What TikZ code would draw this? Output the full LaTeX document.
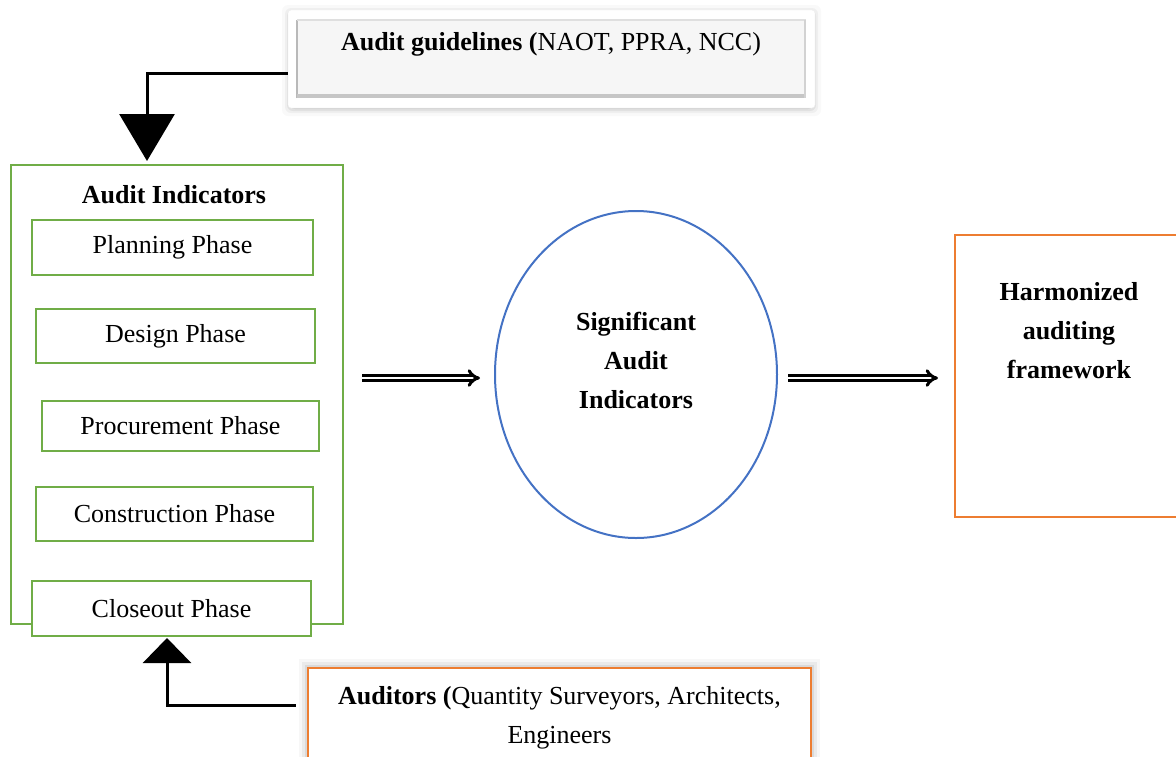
\documentclass[tikz,border=0pt]{standalone}
\usepackage{fontspec}
\setmainfont{Liberation Serif}
\usetikzlibrary{arrows.meta,calc,shapes.geometric}
\definecolor{grn}{RGB}{112,173,71}
\definecolor{org}{RGB}{237,125,49}
\definecolor{blu}{RGB}{68,114,196}
\begin{document}
\begin{tikzpicture}[x=1pt,y=-1pt,
  txt/.style={font=\fontsize{26}{39}\selectfont, inner sep=0pt, align=center},
  phasebox/.style={draw=grn, line width=2pt, fill=white, inner sep=0pt, font=\fontsize{26}{39}\selectfont},
  dblarrow/.style={double, double distance=2.5pt, line width=3pt, -{Implies}}
]
\useasboundingbox (0,0) rectangle (1176,756);

% ---- Audit guidelines (bevelled box with soft shadow)
\foreach \s/\o in {8/0.025,5/0.04,3/0.06,1/0.08}{
  \fill[black,opacity=\o,rounded corners=6pt] (288-\s+2,10-\s+3) rectangle (815+\s-2,108+\s);
}
\node[draw=gray!15, fill=white, rounded corners=3pt, minimum width=527, minimum height=98, inner sep=0pt] (gl) at (551.5,59) {};
\node[fill=gray!7, minimum width=509, minimum height=78, inner sep=0pt] (gli) at (551.5,59) {};
\draw[gray!55, line width=1.5pt] (gli.south west) -- (gli.north west);
\draw[gray!25, line width=1.5pt] (gli.north west) -- (gli.north east);
\draw[gray!45, line width=4pt] ($(gli.south west)+(0,-2)$) -- ($(gli.south east)+(0,-2)$);
\draw[gray!35, line width=2pt] ($(gli.north east)+(-1,0)$) -- ($(gli.south east)+(-1,0)$);
\node[txt] (gltext) at (551,44) {\textbf{Audit guidelines (}NAOT, PPRA, NCC)};

% ---- Audit indicators
\node[draw=grn, line width=2pt, minimum width=332, minimum height=459, inner sep=0pt] (ai) at (177,394.5) {};
\node[txt] (aititle) at (174,195) {\textbf{Audit Indicators}};
\node[phasebox, minimum width=281, minimum height=55] (p1) at (172.5,247.5) {Planning Phase};
\node[phasebox, minimum width=279, minimum height=54] (p2) at (175.5,336) {Design Phase};
\node[phasebox, minimum width=277, minimum height=50] (p3) at (180.5,426) {Procurement Phase};
\node[phasebox, minimum width=277, minimum height=54] (p4) at (174.5,514) {Construction Phase};
\node[phasebox, minimum width=279, minimum height=55] (p5) at (171.5,608.5) {Closeout Phase};

% ---- Auditors
\foreach \s/\o in {9/0.03,6/0.05,3/0.07}{
  \fill[black,opacity=\o] (308-\s,668-\s) rectangle (811+\s,800);
}
\node[draw=org, line width=2pt, fill=white, minimum width=503, minimum height=130, inner sep=0pt] (au) at (559.5,733) {};
\node[txt] (autext) at (559.5,718) {\textbf{Auditors (}Quantity Surveyors, Architects,\\Engineers};

% ---- Significant audit indicators
\node[draw=blu, line width=2pt, ellipse, minimum width=282, minimum height=327, inner sep=0pt] (el) at (636,374.5) {};
\node[txt] (eltext) at (636,360) {\textbf{Significant}\\\textbf{Audit}\\\textbf{Indicators}};

% ---- Harmonized framework
\node[draw=org, line width=2pt, minimum width=240, minimum height=282, inner sep=0pt] (hf) at (1075,376) {};
\node[txt] (hftext) at (1069,331) {\textbf{Harmonized}\\\textbf{auditing}\\\textbf{framework}};

% ---- connectors
\coordinate (g1) at ($(gl.west)+(0,14)$);
\draw[line width=3pt, {Triangle[width=55pt,length=47pt]}-] ($(ai.north west)+(137,-3)$) |- (g1);
\coordinate (a1) at ($(au.west)+(-11,-28)$);
\draw[line width=3pt, {Triangle[width=48pt,length=25pt]}-] ($(p5.south west)+(136,1)$) |- (a1);

\draw[dblarrow] ($(ai.east)+(18,-16.5)$) -- ($(el.west)+(-14,3.5)$);
\draw[dblarrow] ($(el.east)+(10,3.5)$) -- ($(hf.west)+(-16,2)$);
\end{tikzpicture}
\end{document}
